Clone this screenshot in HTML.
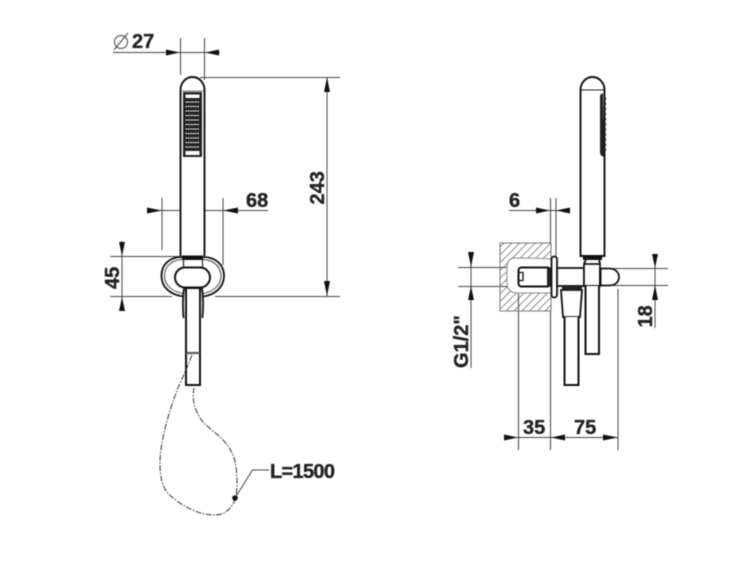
<!DOCTYPE html>
<html>
<head>
<meta charset="utf-8">
<style>
html,body{margin:0;padding:0;background:#fff}
svg{display:block;position:absolute;left:0;top:0}
text{font-family:"Liberation Sans",sans-serif;font-weight:bold;font-size:20px;fill:#222;stroke:#222;stroke-width:.35px}
</style>
</head>
<body>
<svg width="750" height="563" viewBox="0 0 750 563" xmlns="http://www.w3.org/2000/svg">
<defs>
<pattern id="h" width="5.500" height="5.500" patternUnits="userSpaceOnUse" patternTransform="rotate(45)">
<line x1="0" y1="0" x2="0" y2="5.500" stroke="#444" stroke-width="1.200"/>
</pattern>
</defs>
<g style="filter:blur(.4px)">
<!-- dimension lines -->
<g stroke="#444" stroke-width="1" fill="none">
<path d="M113 52.500H220M180.500 38V75M204.500 38V80"/>
<path d="M200 77.500H340M110 296.500H172M215 296.500H340M327 77V296"/>
<path d="M147 210.500H268M162 198V250M223 198V265"/>
<path d="M110 256.500H180M122 241V311"/>
<path d="M509 210.500H570M550.500 198V243M556 198V256"/>
<path d="M458 267.500H518M458 286.500H518M471 252V368"/>
<path d="M600 268.500H668M606 285.500H668M655 254V328"/>
<path d="M504 437.500H618M518.500 286V450M550.500 311V450M618 289V450"/>
<path d="M269 470H252.500L235 498"/>
</g>
<!-- arrowheads -->
<g fill="#111">
<path d="M166 49.500L180 52.500L166 55.500ZM219 49.500L205 52.500L219 55.500Z"/>
<path d="M324 92L327 77L330 92ZM324 281L327 296L330 281Z"/>
<path d="M147 207.500L162 210.500L147 213.500ZM238 207.500L223 210.500L238 213.500Z"/>
<path d="M119 242L122 256L125 242ZM119 311L122 297L125 311Z"/>
<path d="M536 207.500L550 210.500L536 213.500ZM570 207.500L556 210.500L570 213.500Z"/>
<path d="M468 252L471 267L474 252ZM468 300L471 286L474 300Z"/>
<path d="M652 254L655 268L658 254ZM652 300L655 285L658 300Z"/>
<path d="M504 434.500L518 437.500L504 440.500ZM565 434.500L551 437.500L565 440.500ZM603 434.500L618 437.500L603 440.500Z"/>
</g>

<!-- LEFT VIEW handle -->
<path d="M180.500 256V90A12 13 0 0 1 204.500 90V256" fill="#fff" stroke="#111" stroke-width="1.900"/>
<path d="M181 91H204" stroke="#777" stroke-width="1" fill="none"/>
<rect x="183" y="92" width="19" height="65" fill="#222"/>
<g fill="#fff">
<rect x="185.500" y="94.500" width="14" height="3.500"/>
<rect x="185.500" y="151" width="14" height="4"/>
</g>
<g stroke="#eee" stroke-width="1.300" stroke-dasharray="1.700 .6">
<path d="M185.500 102H199.500M185.500 106.500H199.500M185.500 111H199.500M185.500 115.500H199.500M185.500 120H199.500M185.500 124.500H199.500M185.500 129H199.500M185.500 133.500H199.500M185.500 138H199.500M185.500 142.500H199.500M185.500 147H199.500"/>
</g>
<!-- holder -->
<path d="M182 257C170 257 161.500 264 161.500 276C161.500 287 170 295 184 296.500M203 257C215 257 224 264 224 276C224 287 215 295 203 296.500" fill="none" stroke="#111" stroke-width="1.800"/>
<path d="M182 259.500C172 260 164.500 266 164.500 276C164.500 285 172 292 184 293.500M203 259.500C213 260 221 266 221 276C221 285 213 292 203 293.500" fill="none" stroke="#444" stroke-width="1"/>
<rect x="182" y="255.500" width="21" height="4.500" fill="#111"/>
<path d="M183.500 260V267M202.500 260V267M183.500 267.500H202.500" fill="none" stroke="#222" stroke-width="1.200"/>
<rect x="175" y="267.500" width="35" height="20" rx="10" ry="10" fill="#fff" stroke="#111" stroke-width="2"/>
<path d="M183.500 318C182.500 305 183 295 184 288H202C203 295 203.500 305 202.500 318" fill="#fff" stroke="#111" stroke-width="1.800"/>
<path d="M186 353V288M200 353V288" fill="none" stroke="#111" stroke-width="2"/>
<path d="M186 288H200" stroke="#111" stroke-width="2"/>
<path d="M186 353H200V385H186Z" fill="#fff" stroke="#111" stroke-width="2"/>
<path d="M186 353H200" stroke="#888" stroke-width="1"/>
<!-- hose -->
<path d="M192 355C187 368 185 372 182 379C172 400 160 440 160 462C160 480 163 490 172 497C185 508 200 515 215 515C226 515 233 507 236 497C238 480 237 465 233 455C225 436 208 430 200 418C194 408 192 398 194 388" fill="none" stroke="#333" stroke-width="1" stroke-dasharray="6 1.500 1.500 1.500"/>
<circle cx="235" cy="498" r="2.800" fill="#111"/>

<!-- RIGHT VIEW handle -->
<path d="M580.500 256V90A12 13 0 0 1 604.500 90V256H580.500Z" fill="#fff" stroke="#111" stroke-width="1.900"/>
<path d="M581 90H604" stroke="#222" stroke-width="1"/>
<path d="M603 93C600.500 94 600 95 600 97V152C600 155 601 156 604 157Z" fill="#222"/>
<g stroke="#222" stroke-width="1.500" stroke-dasharray="1.500 3.600">
<path d="M605.500 98V154"/>
</g>
<!-- wall -->
<rect x="500" y="243" width="51" height="68" fill="url(#h)" stroke="#777" stroke-width="1"/>
<path d="M551 259C535 258 525 258 515 258C509 258 507 262 507 268V283C507 289 510 293 518 293H551Z" fill="#fff" stroke="#888" stroke-width="1"/>
<!-- cylinder -->
<rect x="518.500" y="267.500" width="32" height="19" rx="3" fill="#fff" stroke="#111" stroke-width="2"/>
<rect x="547" y="268" width="4" height="18" fill="#222"/>
<path d="M519 272.500H523V280.500H519" fill="none" stroke="#111" stroke-width="1.300"/>
<!-- pipe -->
<rect x="557" y="268" width="27" height="18" fill="#fff" stroke="#111" stroke-width="1.800"/>
<rect x="551.500" y="256.500" width="5.500" height="41" rx="2.700" fill="#fff" stroke="#111" stroke-width="1.800"/>
<!-- knob -->
<path d="M600 268.500H609C615 268.500 619 272 619 277C619 282 615 285.500 609 285.500H600Z" fill="#fff" stroke="#111" stroke-width="1.800"/>
<!-- vertical body -->
<path d="M584 264L586 259M600 264L599 259" fill="none" stroke="#111" stroke-width="1.800"/>
<rect x="584" y="264" width="16" height="22" fill="#fff" stroke="#111" stroke-width="1.700"/>
<path d="M584 286H600" stroke="#111" stroke-width="2"/>
<rect x="599" y="268" width="2.500" height="18" fill="#111"/>
<rect x="583" y="256.500" width="19" height="3.500" fill="#111"/>
<path d="M585.500 286V354H599V286" fill="#fff" stroke="#111" stroke-width="2"/>
<!-- hose connector -->
<path d="M561 290H582L580 317H563Z" fill="#fff" stroke="#111" stroke-width="1.800"/>
<rect x="562" y="287" width="20" height="3" fill="#222"/>
<path d="M564.500 317V385H578.500V317" fill="#fff" stroke="#111" stroke-width="2"/>

<!-- labels -->
<circle cx="121" cy="42" r="6.500" fill="none" stroke="#444" stroke-width="1"/>
<path d="M114 50L128 33" fill="none" stroke="#444" stroke-width="1"/>
<text x="132" y="48">27</text>
<text x="246" y="207">68</text>
<text x="509" y="207">6</text>
<text x="523" y="434">35</text>
<text x="574" y="434">75</text>
<text x="270" y="478" textLength="65">L=1500</text>
<text transform="translate(324 204.500) rotate(-90)">243</text>
<text transform="translate(119 289) rotate(-90)">45</text>
<text transform="translate(468 368) rotate(-90)">G1/2"</text>
<text transform="translate(652 327.500) rotate(-90)">18</text>
</g>
</svg>
</body>
</html>
